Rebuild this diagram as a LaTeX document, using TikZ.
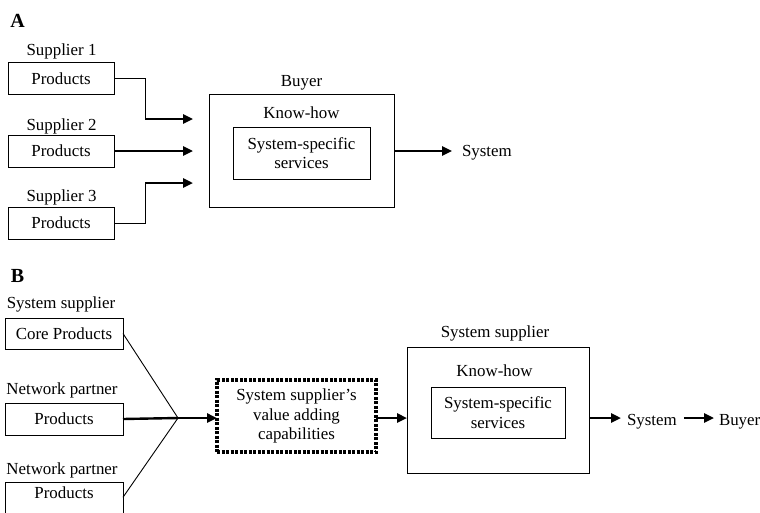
\documentclass[tikz,border=0pt]{standalone}
\usepackage{fontspec}
\setmainfont{Liberation Serif}
\usetikzlibrary{arrows.meta,calc}

\tikzset{
  txt/.style={font=\fontsize{16.9}{19.5}\selectfont, inner sep=0pt, outer sep=0pt},
  box/.style={txt, draw, line width=0.9pt, rectangle, align=center},
  thinline/.style={line width=0.9pt},
  thickline/.style={line width=2.4pt},
  thickarrow/.style={line width=2.4pt, -{Triangle[length=10pt,width=9pt]}},
  dotbox/.style={txt, draw, align=center, line width=3.2pt,
    dash pattern=on 3pt off 1.5pt},
  panel/.style={font=\bfseries\fontsize{20}{20}\selectfont, inner sep=0pt}
}

\begin{document}
\begin{tikzpicture}[x=1pt,y=-1pt]
\useasboundingbox (0,0) rectangle (760,512);
\clip (0,0) rectangle (760,512);

% ---------------- Panel A: buyer integrates the products itself
\node[panel, anchor=base] (lblA) at (17.5,27) {A};

\node[txt, anchor=base] (s1) at (61.5,55) {Supplier 1};
\node[box, minimum width=106pt, minimum height=32.5pt] (p1) at (61,78.5) {Products};
\node[txt, anchor=base] (s2) at (61.5,130) {Supplier 2};
\node[box, minimum width=106pt, minimum height=32pt] (p2) at (61,151) {Products};
\node[txt, anchor=base] (s3) at (61.5,201.7) {Supplier 3};
\node[box, minimum width=106pt, minimum height=32pt] (p3) at (61,223) {Products};

\node[box, minimum width=185pt, minimum height=113pt] (buyer) at (301.5,151) {};
\node[txt, anchor=base] (buyerlbl) at (301.5,86.5) {Buyer};
\node[txt, anchor=base] (knowA) at (301.5,118.5) {Know-how};
\node[box, minimum width=137pt, minimum height=52pt] (servA) at (301.5,153)
  {System-specific\\services};

\node[txt, anchor=base west] (sysA) at (462,156.7) {System};

\coordinate (k1) at (145,119);
\coordinate (t1) at (193,119);
\coordinate (t2) at (193,151);
\coordinate (k3) at (145,183);
\coordinate (t3) at (193,183);

\draw[thinline] (p1.east) -| (k1);
\draw[thickarrow] (k1) -- (t1);
\draw[thickarrow] (p2.east) -- (t2);
\draw[thinline] (p3.east) -| (k3);
\draw[thickarrow] (k3) -- (t3);
\draw[thickarrow] (buyer.east) -- ([xshift=-10pt]sysA.west |- buyer.east);

% ---------------- Panel B: system supplier with network partners
\node[panel, anchor=base] (lblB) at (17.5,282) {B};

\node[txt, anchor=base] (ssl) at (61,308) {System supplier};
\node[box, minimum width=118pt, minimum height=31pt] (core) at (64,333.5) {Core Products};
\node[txt, anchor=base] (np1) at (62,394) {Network partner};
\node[box, minimum width=118pt, minimum height=32pt] (nb2) at (64,419) {Products};
\node[txt, anchor=base] (np2) at (62,474) {Network partner};
\node[box, minimum width=118pt, anchor=north, text height=16.5pt, text depth=20pt]
  (nb3) at (64,482) {Products};

\coordinate (m) at (178,418);

\node[dotbox, minimum width=159pt, minimum height=72pt] (vac) at (296.5,416)
  {System supplier’s\\value adding\\capabilities};

\node[box, minimum width=182pt, minimum height=126pt] (ss) at (498,410) {};
\node[txt, anchor=base] (sslbl) at (495,337) {System supplier};
\node[txt, anchor=base] (knowB) at (494.5,376) {Know-how};
\node[box, minimum width=134pt, minimum height=51pt] (servB) at (498,412.5)
  {System-specific\\services};

\node[txt, anchor=base west] (sysB) at (627,425) {System};
\node[txt, anchor=base west] (buyB) at (719,425) {Buyer};

\draw[thinline] (core.east) -- (m);
\draw[thickline] (nb2.east) -- (m);
\draw[thinline] ([yshift=3pt]nb3.east) -- (m);
\draw[thickarrow] (m) -- (vac.west |- m);
\draw[thickarrow] (vac.east |- m) -- (ss.west |- m);
\draw[thickarrow] (ss.east |- m) -- ([xshift=-6pt]sysB.west |- m);
\draw[thickarrow] ([xshift=7pt]sysB.east |- m) -- ([xshift=-5pt]buyB.west |- m);
\end{tikzpicture}
\end{document}
